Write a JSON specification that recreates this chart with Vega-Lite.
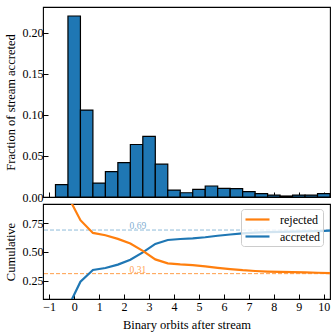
{
  "$schema": "https://vega.github.io/schema/vega-lite/v6.json",
  "padding": {"left": 3, "top": 6, "right": 6, "bottom": 4},
  "spacing": 7,
  "bounds": "flush",
  "datasets": {
    "hist": [
      {"x0": -0.75, "x1": -0.25, "frac": 0.015},
      {"x0": -0.25, "x1": 0.25, "frac": 0.2207},
      {"x0": 0.25, "x1": 0.75, "frac": 0.106},
      {"x0": 0.75, "x1": 1.25, "frac": 0.017},
      {"x0": 1.25, "x1": 1.75, "frac": 0.031},
      {"x0": 1.75, "x1": 2.25, "frac": 0.042},
      {"x0": 2.25, "x1": 2.75, "frac": 0.064},
      {"x0": 2.75, "x1": 3.25, "frac": 0.074},
      {"x0": 3.25, "x1": 3.75, "frac": 0.040},
      {"x0": 3.75, "x1": 4.25, "frac": 0.0085},
      {"x0": 4.25, "x1": 4.75, "frac": 0.0052},
      {"x0": 4.75, "x1": 5.25, "frac": 0.0094},
      {"x0": 5.25, "x1": 5.75, "frac": 0.0134},
      {"x0": 5.75, "x1": 6.25, "frac": 0.0106},
      {"x0": 6.25, "x1": 6.75, "frac": 0.0102},
      {"x0": 6.75, "x1": 7.25, "frac": 0.0065},
      {"x0": 7.25, "x1": 7.75, "frac": 0.004},
      {"x0": 7.75, "x1": 8.25, "frac": 0.0024},
      {"x0": 8.25, "x1": 8.75, "frac": 0.0012},
      {"x0": 8.75, "x1": 9.25, "frac": 0.0024},
      {"x0": 9.25, "x1": 9.75, "frac": 0.0024},
      {"x0": 9.75, "x1": 10.25, "frac": 0.004}
    ],
    "cum": [
      {"edge": -0.75, "value": 0.0, "series": "accreted"},
      {"edge": -0.25, "value": 0.015, "series": "accreted"},
      {"edge": 0.25, "value": 0.240, "series": "accreted"},
      {"edge": 0.75, "value": 0.342, "series": "accreted"},
      {"edge": 1.25, "value": 0.359, "series": "accreted"},
      {"edge": 1.75, "value": 0.389, "series": "accreted"},
      {"edge": 2.25, "value": 0.431, "series": "accreted"},
      {"edge": 2.75, "value": 0.495, "series": "accreted"},
      {"edge": 3.25, "value": 0.569, "series": "accreted"},
      {"edge": 3.75, "value": 0.603, "series": "accreted"},
      {"edge": 4.25, "value": 0.612, "series": "accreted"},
      {"edge": 4.75, "value": 0.617, "series": "accreted"},
      {"edge": 5.25, "value": 0.627, "series": "accreted"},
      {"edge": 5.75, "value": 0.640, "series": "accreted"},
      {"edge": 6.25, "value": 0.651, "series": "accreted"},
      {"edge": 6.75, "value": 0.661, "series": "accreted"},
      {"edge": 7.25, "value": 0.668, "series": "accreted"},
      {"edge": 7.75, "value": 0.672, "series": "accreted"},
      {"edge": 8.25, "value": 0.674, "series": "accreted"},
      {"edge": 8.75, "value": 0.676, "series": "accreted"},
      {"edge": 9.25, "value": 0.678, "series": "accreted"},
      {"edge": 9.75, "value": 0.681, "series": "accreted"},
      {"edge": 10.25, "value": 0.685, "series": "accreted"},
      {"edge": 10.75, "value": 0.688, "series": "accreted"},
      {"edge": -0.75, "value": 1.0, "series": "rejected"},
      {"edge": -0.25, "value": 0.985, "series": "rejected"},
      {"edge": 0.25, "value": 0.776, "series": "rejected"},
      {"edge": 0.75, "value": 0.665, "series": "rejected"},
      {"edge": 1.25, "value": 0.645, "series": "rejected"},
      {"edge": 1.75, "value": 0.613, "series": "rejected"},
      {"edge": 2.25, "value": 0.572, "series": "rejected"},
      {"edge": 2.75, "value": 0.508, "series": "rejected"},
      {"edge": 3.25, "value": 0.434, "series": "rejected"},
      {"edge": 3.75, "value": 0.400, "series": "rejected"},
      {"edge": 4.25, "value": 0.390, "series": "rejected"},
      {"edge": 4.75, "value": 0.384, "series": "rejected"},
      {"edge": 5.25, "value": 0.374, "series": "rejected"},
      {"edge": 5.75, "value": 0.361, "series": "rejected"},
      {"edge": 6.25, "value": 0.350, "series": "rejected"},
      {"edge": 6.75, "value": 0.340, "series": "rejected"},
      {"edge": 7.25, "value": 0.333, "series": "rejected"},
      {"edge": 7.75, "value": 0.328, "series": "rejected"},
      {"edge": 8.25, "value": 0.325, "series": "rejected"},
      {"edge": 8.75, "value": 0.323, "series": "rejected"},
      {"edge": 9.25, "value": 0.321, "series": "rejected"},
      {"edge": 9.75, "value": 0.318, "series": "rejected"},
      {"edge": 10.25, "value": 0.314, "series": "rejected"},
      {"edge": 10.75, "value": 0.312, "series": "rejected"}
    ]
  },
  "vconcat": [
    {
      "width": 287,
      "height": 190,
      "data": {"name": "hist"},
      "mark": {"type": "bar", "fill": "#1f77b4", "stroke": "#000", "strokeWidth": 1.2},
      "encoding": {
        "x": {
          "field": "x0", "type": "quantitative",
          "scale": {"domain": [-1.25, 10.25], "nice": false, "zero": false},
          "axis": {"values": [-1,0,1,2,3,4,5,6,7,8,9,10], "labels": false, "title": null}
        },
        "x2": {"field": "x1"},
        "y": {
          "field": "frac", "type": "quantitative",
          "scale": {"domain": [0, 0.2317], "nice": false},
          "axis": {"values": [0, 0.05, 0.1, 0.15, 0.2], "format": ".2f", "title": "Fraction of stream accreted"}
        },
        "y2": {"datum": 0}
      }
    },
    {
      "width": 287,
      "height": 95,
      "layer": [
        {
          "data": {"values": [{"level": 0.69, "label": "0.69"}]},
          "mark": {"type": "rule", "color": "#1f77b4", "opacity": 0.5, "strokeDash": [4, 2], "strokeWidth": 1},
          "encoding": {"y": {"field": "level", "type": "quantitative"}}
        },
        {
          "data": {"values": [{"level": 0.31, "label": "0.31"}]},
          "mark": {"type": "rule", "color": "#ff7f0e", "opacity": 0.75, "strokeDash": [4, 2], "strokeWidth": 1},
          "encoding": {"y": {"field": "level", "type": "quantitative"}}
        },
        {
          "data": {"values": [{"level": 0.69, "label": "0.69", "pos": 2.55}]},
          "mark": {"type": "text", "color": "#1f77b4", "opacity": 0.6, "fontSize": 9.5, "baseline": "bottom", "align": "center", "dy": 1},
          "encoding": {
            "x": {"field": "pos", "type": "quantitative"},
            "y": {"field": "level", "type": "quantitative"},
            "text": {"field": "label"}
          }
        },
        {
          "data": {"values": [{"level": 0.31, "label": "0.31", "pos": 2.55}]},
          "mark": {"type": "text", "color": "#ff7f0e", "opacity": 0.75, "fontSize": 9.5, "baseline": "bottom", "align": "center", "dy": 1},
          "encoding": {
            "x": {"field": "pos", "type": "quantitative"},
            "y": {"field": "level", "type": "quantitative"},
            "text": {"field": "label"}
          }
        },
        {
          "data": {"name": "cum"},
          "mark": {"type": "line", "strokeWidth": 2.2, "clip": true},
          "encoding": {
            "x": {"field": "edge", "type": "quantitative"},
            "y": {"field": "value", "type": "quantitative"},
            "color": {
              "field": "series", "type": "nominal",
              "scale": {"domain": ["rejected", "accreted"], "range": ["#ff7f0e", "#1f77b4"]},
              "legend": {
                "title": null, "orient": "none", "legendX": 198, "legendY": 5,
                "symbolType": "M-1,0H3", "symbolSize": 144, "symbolStrokeWidth": 2.2,
                "labelFont": "Liberation Serif", "labelFontSize": 12, "labelOffset": 21,
                "fillColor": "rgba(255,255,255,0.8)", "strokeColor": "#cccccc", "cornerRadius": 3,
                "padding": 3, "rowPadding": 3
              }
            }
          }
        }
      ],
      "encoding": {
        "x": {
          "type": "quantitative",
          "scale": {"domain": [-1.25, 10.25], "nice": false, "zero": false},
          "axis": {"values": [-1,0,1,2,3,4,5,6,7,8,9,10], "format": "d", "title": "Binary orbits after stream", "labelPadding": 7, "titlePadding": 6}
        },
        "y": {
          "type": "quantitative",
          "scale": {"domain": [0.089, 0.917], "nice": false, "zero": false},
          "axis": {"values": [0.25, 0.5, 0.75], "format": ".2f", "title": "Cumulative"}
        }
      },
      "resolve": {"legend": {"color": "independent"}}
    }
  ],
  "resolve": {"scale": {"x": "independent", "color": "independent"}, "legend": {"color": "independent"}},
  "config": {
    "font": "Liberation Serif",
    "view": {"stroke": "#000", "strokeWidth": 1.1},
    "axis": {
      "labelFont": "Liberation Serif", "labelFontSize": 12, "labelColor": "#000",
      "titleFont": "Liberation Serif", "titleFontSize": 12.5, "titleFontWeight": "normal", "titleColor": "#000",
      "tickColor": "#000", "tickSize": -5, "tickWidth": 1, "labelPadding": 5,
      "domain": false, "grid": false, "titlePadding": 5
    }
  }
}
